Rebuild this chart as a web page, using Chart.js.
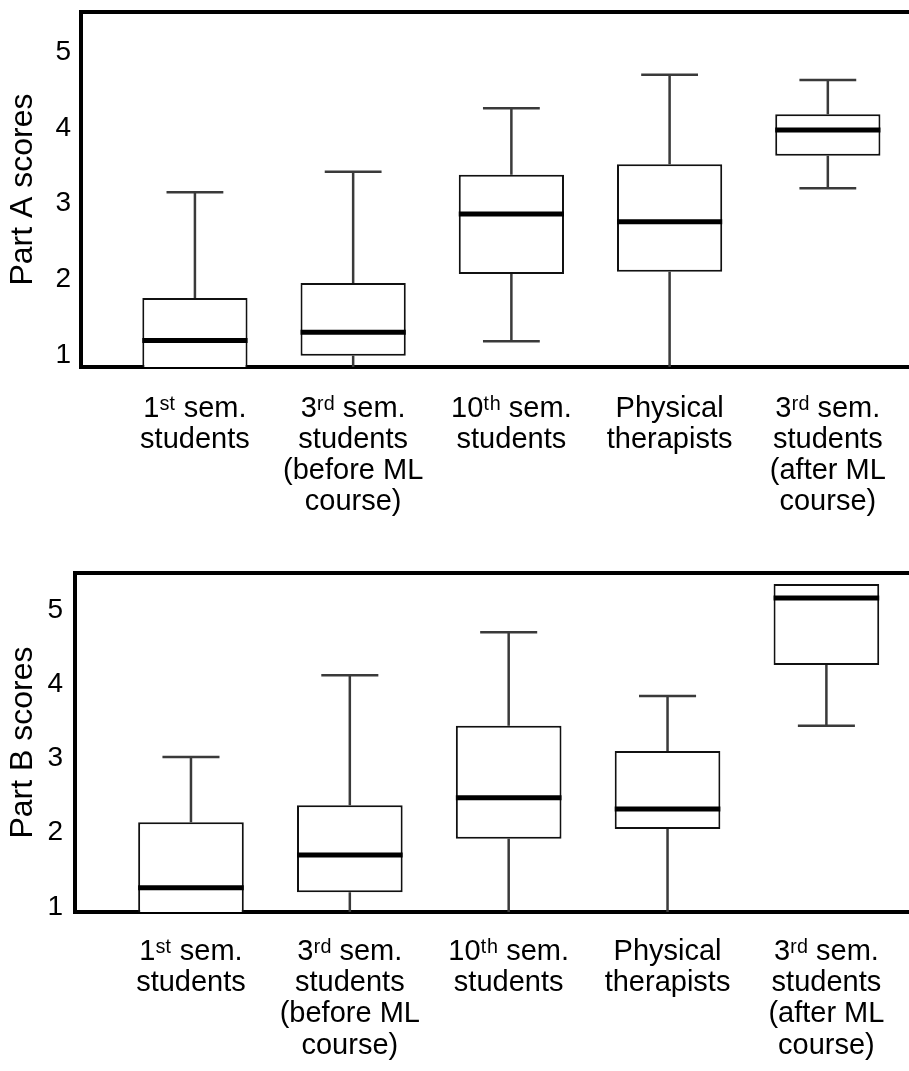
<!DOCTYPE html>
<html>
<head>
<meta charset="utf-8">
<title>Part A / Part B scores</title>
<script src="https://cdn.jsdelivr.net/npm/chart.js@4.4.1/dist/chart.umd.min.js"></script>
<style>
  html, body { margin: 0; padding: 0; background: #fff; }
  #wrapA { position: absolute; left: 0; top: 0; width: 909px; height: 545px; }
  #wrapB { position: absolute; left: 0; top: 545px; width: 909px; height: 526px; }
</style>
</head>
<body>
<div id="wrapA"><canvas id="chartA"></canvas></div>
<div id="wrapB"><canvas id="chartB"></canvas></div>
<script>
// Groups on the x axis (one box per group, placed at 0..4)
const groupLabels = [
    ['1\u02E2\u1D57 sem.', 'students'],
    ['3\u02B3\u1D48 sem.', 'students', '(before ML', 'course)'],
    ['10\u1D57\u02B0 sem.', 'students'],
    ['Physical', 'therapists'],
    ['3\u02B3\u1D48 sem.', 'students', '(after ML', 'course)']
];
const groupPos = [0, 1, 2, 3, 4];
const yTickValues = [1, 2, 3, 4, 5];

// Part A scores
const partAMax    = [3.15, 3.42, 4.26, 4.70, 4.63];
const partAQ3     = [1.75, 1.95, 3.38, 3.52, 4.18];
const partAMedian = [1.19, 1.30, 2.86, 2.76, 3.97];
const partAQ1     = [0.80, 0.99, 2.07, 2.10, 3.63];
const partAMin    = [0.80, 0.80, 1.18, 0.80, 3.20];

// Part B scores
const partBMax    = [3.02, 4.12, 4.70, 3.84, 5.35];
const partBQ3     = [2.14, 2.37, 3.44, 3.10, 5.35];
const partBMedian = [1.26, 1.70, 2.47, 2.32, 5.16];
const partBQ1     = [0.85, 1.20, 1.92, 2.05, 4.26];
const partBMin    = [0.85, 0.85, 0.85, 0.85, 3.44];

const FONT = "'Liberation Sans', Arial, Helvetica, sans-serif";

// whiskers, caps and medians drawn around the floating bars
const boxExtras = {
    id: 'boxExtras',
    beforeDatasetsDraw(chart, args, opts) {
        const ctx = chart.ctx;
        const area = chart.chartArea;
        const y = chart.scales.y;
        const bars = chart.getDatasetMeta(0).data;
        ctx.save();
        ctx.beginPath();
        ctx.rect(area.left, area.top, area.right - area.left, area.bottom - area.top);
        ctx.clip();
        ctx.strokeStyle = '#3a3a3a';
        ctx.lineWidth = 2.5;
        bars.forEach((bar, i) => {
            const capHalf = bar.width * 0.27;
            const yMax = y.getPixelForValue(opts.max[i]);
            const yMin = y.getPixelForValue(opts.min[i]);
            const yQ3 = y.getPixelForValue(opts.q3[i]);
            const yQ1 = y.getPixelForValue(opts.q1[i]);
            ctx.beginPath();
            ctx.moveTo(bar.x, yQ3);
            ctx.lineTo(bar.x, yMax);
            ctx.moveTo(bar.x, yQ1);
            ctx.lineTo(bar.x, yMin);
            if (opts.max[i] > opts.q3[i]) {
                ctx.moveTo(bar.x - capHalf, yMax);
                ctx.lineTo(bar.x + capHalf, yMax);
            }
            if (opts.min[i] < opts.q1[i]) {
                ctx.moveTo(bar.x - capHalf, yMin);
                ctx.lineTo(bar.x + capHalf, yMin);
            }
            ctx.stroke();
        });
        ctx.restore();
    },
    afterDatasetsDraw(chart, args, opts) {
        const ctx = chart.ctx;
        const area = chart.chartArea;
        const y = chart.scales.y;
        const bars = chart.getDatasetMeta(0).data;
        ctx.save();
        ctx.beginPath();
        ctx.rect(area.left, area.top, area.right - area.left, area.bottom - area.top);
        ctx.clip();
        ctx.strokeStyle = '#000';
        ctx.lineWidth = 5;
        bars.forEach((bar, i) => {
            const ym = y.getPixelForValue(opts.median[i]);
            ctx.beginPath();
            ctx.moveTo(bar.x - bar.width / 2, ym);
            ctx.lineTo(bar.x + bar.width / 2, ym);
            ctx.stroke();
        });
        ctx.restore();
    }
};

function makeBoxChart(canvasId, s) {
    const ctx = document.getElementById(canvasId).getContext('2d');
    const boxes = groupPos.map((x, i) => ({ x: x, y: [s.q1[i], s.q3[i]] }));
    return new Chart(ctx, {
        type: 'bar',
        data: {
            datasets: [{
                data: boxes,
                backgroundColor: '#ffffff',
                borderColor: '#111111',
                borderWidth: 2,
                borderSkipped: false,
                categoryPercentage: 1,
                barPercentage: 0.665,
                clip: 0
            }]
        },
        options: {
            responsive: true,
            maintainAspectRatio: false,
            animation: false,
            layout: { padding: { top: s.padTop, left: 0, right: 0, bottom: 0 } },
            plugins: {
                legend: { display: false },
                tooltip: { enabled: false },
                boxExtras: { min: s.min, max: s.max, q1: s.q1, q3: s.q3, median: s.median }
            },
            scales: {
                x: {
                    type: 'linear',
                    min: s.xMin,
                    max: s.xMax,
                    offset: false,
                    z: 1,
                    grid: { display: false, drawTicks: false, offset: false },
                    border: { display: true, color: '#000', width: 4 },
                    afterFit: (scale) => {
                        scale.height = s.xAxisHeight;
                        scale.paddingLeft = 0;
                        scale.paddingRight = 0;
                    },
                    ticks: {
                        stepSize: 1,
                        includeBounds: false,
                        autoSkip: false,
                        maxRotation: 0,
                        padding: s.xTickPad,
                        color: '#000',
                        font: { family: FONT, size: 29, lineHeight: s.xLineHeight },
                        callback: (v) => (Number.isInteger(v) && groupLabels[v]) ? groupLabels[v] : ''
                    }
                },
                xTop: {
                    type: 'linear',
                    position: 'top',
                    min: s.xMin,
                    max: s.xMax,
                    offset: false,
                    z: 1,
                    grid: { display: false, drawTicks: false },
                    border: { display: true, color: '#000', width: 4 },
                    ticks: { display: false },
                    afterFit: (scale) => {
                        scale.height = 0;
                        scale.paddingLeft = 0;
                        scale.paddingRight = 0;
                    }
                },
                y: {
                    min: s.yMin,
                    max: s.yMax,
                    z: 1,
                    grid: { display: false, drawTicks: false },
                    border: { display: true, color: '#000', width: 4 },
                    afterFit: (scale) => {
                        scale.width = s.yAxisWidth;
                        scale.paddingTop = 0;
                        scale.paddingBottom = 0;
                    },
                    afterBuildTicks: (scale) => {
                        scale.ticks = yTickValues.map(v => ({ value: v }));
                    },
                    ticks: {
                        padding: s.yTickPad,
                        color: '#000',
                        font: { family: FONT, size: 28 }
                    },
                    title: {
                        display: true,
                        text: s.yTitle,
                        color: '#000',
                        padding: { top: 4, bottom: 0 },
                        font: { family: FONT, size: 32 }
                    }
                }
            }
        },
        plugins: [boxExtras]
    });
}

makeBoxChart('chartA', {
    max: partAMax, q3: partAQ3, median: partAMedian, q1: partAQ1, min: partAMin,
    yTitle: 'Part A scores',
    yMin: 0.84, yMax: 5.53,
    xMin: -0.72, xMax: 4.513,
    padTop: 12, xAxisHeight: 178, yAxisWidth: 81,
    xTickPad: 27, xLineHeight: 1.06, yTickPad: 10
});

makeBoxChart('chartB', {
    max: partBMax, q3: partBQ3, median: partBMedian, q1: partBQ1, min: partBMin,
    yTitle: 'Part B scores',
    yMin: 0.933, yMax: 5.498,
    xMin: -0.73, xMax: 4.52,
    padTop: 28, xAxisHeight: 159, yAxisWidth: 75,
    xTickPad: 24, xLineHeight: 1.08, yTickPad: 12
});
</script>
</body>
</html>
